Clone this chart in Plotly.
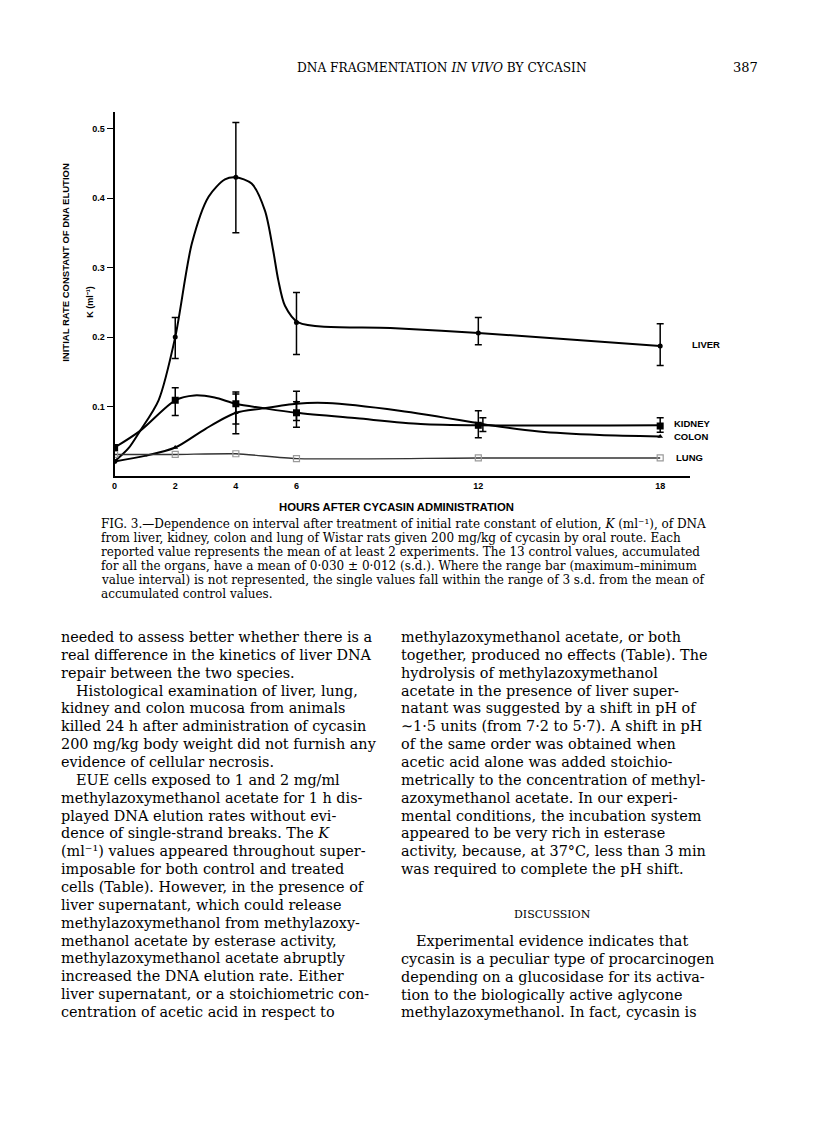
import plotly.graph_objects as go

# ---------------- data ----------------
hours = [0, 2, 4, 6, 12, 18]
liver_k = [0.021, 0.200, 0.430, 0.221, 0.206, 0.187]
kidney_k = [0.041, 0.109, 0.104, 0.091, 0.073, 0.072]
colon_k = [0.021, 0.041, 0.091, 0.106, 0.075, 0.057]
lung_k = [0.031, 0.031, 0.032, 0.025, 0.026, 0.026]

# range bars (maximum-minimum) where represented
liver_bar_h = [2, 4, 6, 12, 18]
liver_bar_min = [0.169, 0.350, 0.175, 0.189, 0.159]
liver_bar_max = [0.228, 0.509, 0.264, 0.228, 0.219]
kidney_bar_h = [2, 4, 6, 12, 18]
kidney_bar_min = [0.087, 0.075, 0.070, 0.055, 0.063]
kidney_bar_max = [0.127, 0.121, 0.122, 0.094, 0.084]
colon_bar_h = [4, 6, 12.15]
colon_bar_min = [0.061, 0.080, 0.064]
colon_bar_max = [0.118, 0.107, 0.084]

# hand-drawn smooth curves
liver_curve_h = [0, 0.46, 0.84, 1.45, 2.0, 2.55, 3.1, 3.64, 4.0, 4.52, 4.96, 5.23, 5.4, 5.62, 6.06, 9.1, 12, 18]
liver_curve_k = [0.021, 0.040, 0.065, 0.109, 0.200, 0.335, 0.402, 0.427, 0.430, 0.421, 0.382, 0.325,
                 0.282, 0.245, 0.221, 0.213, 0.206, 0.187]
kidney_curve_h = [0, 0.84, 2.0, 2.63, 3.3, 4.0, 5.0, 6.0, 8.0, 10.1, 12, 18]
kidney_curve_k = [0.041, 0.065, 0.109, 0.116, 0.113, 0.104, 0.097, 0.091, 0.083, 0.075, 0.073, 0.073]
colon_curve_h = [0, 1.0, 2.0, 3.0, 4.0, 4.85, 6.0, 7.0, 9.4, 12.0, 12.4, 14.0, 16.0, 18.0]
colon_curve_k = [0.021, 0.029, 0.041, 0.068, 0.091, 0.097, 0.104, 0.105, 0.094, 0.076, 0.073, 0.064, 0.059, 0.057]

control_h = [-0.27]
control_k = [0.022]

x_ticks = [0, 2, 4, 6, 12, 18]
y_ticks = [0.1, 0.2, 0.3, 0.4, 0.5]
y_tick_text = ["0.1", "0.2", "0.3", "0.4", "0.5"]

organ_labels = ["LIVER", "KIDNEY", "COLON", "LUNG"]

header_title = "DNA FRAGMENTATION <i>IN VIVO</i> BY CYCASIN"
page_number = "387"

caption_lines = [
    "FIG. 3.—Dependence on interval after treatment of initial rate constant of elution, <i>K</i> (ml⁻¹), of DNA",
    "from liver, kidney, colon and lung of Wistar rats given 200 mg/kg of cycasin by oral route. Each",
    "reported value represents the mean of at least 2 experiments. The 13 control values, accumulated",
    "for all the organs, have a mean of 0·030 ± 0·012 (s.d.). Where the range bar (maximum–minimum",
    "value interval) is not represented, the single values fall within the range of 3 s.d. from the mean of",
    "accumulated control values.",
]

left_column = [
    "needed to assess better whether there is a",
    "real difference in the kinetics of liver DNA",
    "repair between the two species.",
    "\tHistological examination of liver, lung,",
    "kidney and colon mucosa from animals",
    "killed 24 h after administration of cycasin",
    "200 mg/kg body weight did not furnish any",
    "evidence of cellular necrosis.",
    "\tEUE cells exposed to 1 and 2 mg/ml",
    "methylazoxymethanol acetate for 1 h dis-",
    "played DNA elution rates without evi-",
    "dence of single-strand breaks. The <i>K</i>",
    "(ml⁻¹) values appeared throughout super-",
    "imposable for both control and treated",
    "cells (Table). However, in the presence of",
    "liver supernatant, which could release",
    "methylazoxymethanol from methylazoxy-",
    "methanol acetate by esterase activity,",
    "methylazoxymethanol acetate abruptly",
    "increased the DNA elution rate. Either",
    "liver supernatant, or a stoichiometric con-",
    "centration of acetic acid in respect to",
]

right_column = [
    "methylazoxymethanol acetate, or both",
    "together, produced no effects (Table). The",
    "hydrolysis of methylazoxymethanol",
    "acetate in the presence of liver super-",
    "natant was suggested by a shift in pH of",
    "∼1·5 units (from 7·2 to 5·7). A shift in pH",
    "of the same order was obtained when",
    "acetic acid alone was added stoichio-",
    "metrically to the concentration of methyl-",
    "azoxymethanol acetate. In our experi-",
    "mental conditions, the incubation system",
    "appeared to be very rich in esterase",
    "activity, because, at 37°C, less than 3 min",
    "was required to complete the pH shift.",
]
discussion_head = "DISCUSSION"
discussion_lines = [
    "\tExperimental evidence indicates that",
    "cycasin is a peculiar type of procarcinogen",
    "depending on a glucosidase for its activa-",
    "tion to the biologically active aglycone",
    "methylazoxymethanol. In fact, cycasin is",
]

# ---------------- layout helpers ----------------
W, H = 816, 1136
OFF = 8  # page body margin


def px(x):
    return (x - OFF) / W


def py(y):
    return 1 - (y - OFF) / H


SANS = "Liberation Sans"
SERIF = "DejaVu Serif"

fig = go.Figure()

# curves
for ch, ck in [(liver_curve_h, liver_curve_k), (kidney_curve_h, kidney_curve_k), (colon_curve_h, colon_curve_k)]:
    fig.add_trace(go.Scatter(x=ch, y=ck, mode="lines",
                             line=dict(color="black", width=2, shape="spline", smoothing=0.8),
                             hoverinfo="skip", showlegend=False))
fig.add_trace(go.Scatter(x=hours, y=lung_k, mode="lines",
                         line=dict(color="#333333", width=1.4, shape="spline", smoothing=0.6),
                         hoverinfo="skip", showlegend=False))


def bars(h, k_lo, k_hi):
    mid = [(a + b) / 2 for a, b in zip(k_lo, k_hi)]
    return go.Scatter(x=h, y=mid, mode="markers", marker=dict(size=0.1, color="rgba(0,0,0,0)"),
                      error_y=dict(type="data", symmetric=True, array=[(b - a) / 2 for a, b in zip(k_lo, k_hi)],
                                   color="black", thickness=1.5, width=3.5),
                      hoverinfo="skip", showlegend=False)


fig.add_trace(bars(liver_bar_h, liver_bar_min, liver_bar_max))
fig.add_trace(bars(kidney_bar_h, kidney_bar_min, kidney_bar_max))
fig.add_trace(bars(colon_bar_h, colon_bar_min, colon_bar_max))

# markers
fig.add_trace(go.Scatter(x=hours, y=lung_k, mode="markers",
                         marker=dict(symbol="square-open", size=6, color="#9a9a9a", line=dict(width=1.2)),
                         name="LUNG", showlegend=False))
fig.add_trace(go.Scatter(x=hours, y=colon_k, mode="markers",
                         marker=dict(symbol="triangle-up", size=5, color="black"), name="COLON", showlegend=False))
fig.add_trace(go.Scatter(x=hours, y=kidney_k, mode="markers",
                         marker=dict(symbol="square", size=7, color="black"), name="KIDNEY", showlegend=False))
fig.add_trace(go.Scatter(x=hours, y=liver_k, mode="markers",
                         marker=dict(symbol="circle", size=5, color="black"), name="LIVER", showlegend=False))
fig.add_trace(go.Scatter(x=control_h, y=control_k, mode="markers", cliponaxis=False,
                         marker=dict(symbol="triangle-up", size=6, color="black"), showlegend=False,
                         hoverinfo="skip"))

fig.update_xaxes(domain=[px(112), px(690)], range=[0, 19.0], showline=True, linewidth=2, linecolor="black",
                 showgrid=False, zeroline=False, tickvals=x_ticks, ticktext=[str(t) for t in x_ticks],
                 ticks="", tickfont=dict(family=SANS, size=9, color="black", weight="bold"))
fig.update_yaxes(domain=[py(476), py(112)], range=[0, 0.524], showline=True, linewidth=2, linecolor="black",
                 showgrid=False, zeroline=False, tickvals=y_ticks, ticktext=y_tick_text,
                 ticks="outside", ticklen=6, tickwidth=1.3, tickcolor="black",
                 tickfont=dict(family=SANS, size=9, color="black", weight="bold"))

ann = []


def text(x, y, s, size, family=SERIF, anchor="left", angle=0, weight="normal"):
    ann.append(dict(x=px(x), y=py(y), xref="paper", yref="paper", text=s, showarrow=False, xanchor=anchor,
                    yanchor="middle", textangle=angle,
                    font=dict(family=family, size=size, color="black", weight=weight)))


# chart texts
text(395, 507, "HOURS AFTER CYCASIN ADMINISTRATION", 11.3, SANS, "center", weight="bold")
text(63, 262, "INITIAL RATE CONSTANT OF DNA ELUTION", 9.5, SANS, "center", angle=-90, weight="bold")
text(87, 302, "K (ml⁻¹)", 9, SANS, "center", angle=-90, weight="bold")
label_pos = [(690, 345), (671, 424), (671, 437), (673, 457)]
for lab, (lx, ly) in zip(organ_labels, label_pos):
    text(lx, ly, lab, 9.5, SANS, "left", weight="bold")

# header
text(441, 68, header_title, 12.2, SERIF, "center")
text(760, 67, page_number, 13, SERIF, "right")

# caption
for i, line in enumerate(caption_lines):
    text(96, 524 + i * 14, line, 12.0, SERIF, "left")

# body columns
pitch = 17.86
for i, line in enumerate(left_column):
    x0 = 56
    if line.startswith("\t"):
        line = line[1:]
        x0 += 15
    text(x0, 637 + i * pitch, line, 14.4, SERIF, "left")
for i, line in enumerate(right_column):
    text(397, 637 + i * pitch, line, 14.4, SERIF, "left")
text(551, 914, discussion_head, 11, SERIF, "center")
for i, line in enumerate(discussion_lines):
    x0 = 397
    if line.startswith("\t"):
        line = line[1:]
        x0 += 15
    text(x0, 941 + i * pitch, line, 14.4, SERIF, "left")

fig.update_layout(width=W, height=H, margin=dict(l=0, r=0, t=0, b=0), paper_bgcolor="white",
                  plot_bgcolor="white", annotations=ann, showlegend=False)

fig.write_html("out.html")
